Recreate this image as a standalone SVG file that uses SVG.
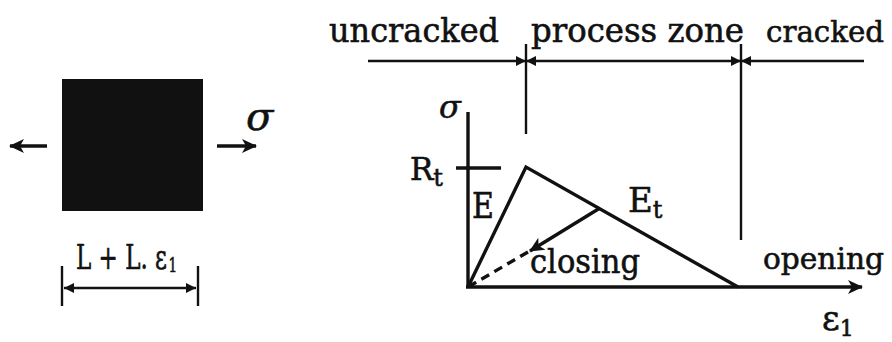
<svg xmlns="http://www.w3.org/2000/svg" width="892" height="342" viewBox="0 0 892 342">
<style>
text{font-family:"DejaVu Serif","Liberation Serif",serif;fill:#111;stroke:#111;stroke-width:0.6}
.ln{stroke:#111;stroke-width:3.4;fill:none}
.thin{stroke:#111;stroke-width:2.4;fill:none}
.it{font-style:italic}
</style>
<defs>
<marker id="ahb" markerWidth="16" markerHeight="16" refX="14" refY="8" orient="auto" markerUnits="userSpaceOnUse">
<path d="M0,1 L15,8 L0,15 L4,8 Z" fill="#111"/>
</marker>
<marker id="ahs" markerWidth="10" markerHeight="10" refX="10" refY="5" orient="auto-start-reverse" markerUnits="userSpaceOnUse">
<path d="M0,0 L10,5 L0,10 Z" fill="#111"/>
</marker>
</defs>

<g id="specimen">
<rect x="62" y="79" width="141" height="132" fill="#111"/>
<line class="ln" x1="47" y1="146" x2="10" y2="146" marker-end="url(#ahb)"/>
<line class="ln" x1="217" y1="146" x2="256" y2="146" marker-end="url(#ahb)"/>
<text class="it" x="246" y="130" font-size="40">σ</text>
</g>

<g id="dimension">
<line class="thin" x1="62" y1="266" x2="62" y2="306"/>
<line class="thin" x1="198" y1="266" x2="198" y2="306"/>
<line class="thin" x1="64" y1="288" x2="196" y2="288" marker-start="url(#ahs)" marker-end="url(#ahs)"/>
<text x="76" y="269" font-size="34" textLength="101" lengthAdjust="spacingAndGlyphs">L + L. ε<tspan font-size="20" dx="2" dy="3">1</tspan></text>
</g>

<g id="zones">
<text x="329" y="42" font-size="34" textLength="170" lengthAdjust="spacingAndGlyphs">uncracked</text>
<text x="531" y="42" font-size="34" textLength="213" lengthAdjust="spacingAndGlyphs">process zone</text>
<text x="766" y="42" font-size="30" textLength="118" lengthAdjust="spacingAndGlyphs">cracked</text>
</g>

<g id="connectors">
<line class="thin" x1="368" y1="61" x2="526" y2="61" marker-end="url(#ahs)"/>
<line class="thin" x1="526" y1="61" x2="741" y2="61" marker-start="url(#ahs)" marker-end="url(#ahs)"/>
<line class="thin" x1="741" y1="61" x2="864" y2="61" marker-start="url(#ahs)"/>
<line class="thin" x1="526" y1="44" x2="526" y2="134"/>
<line class="thin" x1="741" y1="44" x2="741" y2="240"/>
</g>

<g id="graph">
<line class="ln" x1="468" y1="112" x2="468" y2="288"/>
<line class="ln" x1="466" y1="287" x2="862" y2="287" marker-end="url(#ahb)"/>
<line class="ln" x1="456" y1="168" x2="501" y2="168"/>
<polyline class="ln" points="468,287 526,167 738,287"/>
<line class="ln" x1="600" y1="208" x2="530" y2="251" marker-end="url(#ahb)"/>
<line class="ln" x1="528" y1="252" x2="468" y2="287" stroke-dasharray="9,6"/>
<text class="it" x="439" y="118" font-size="32">σ</text>
<text x="410" y="180" font-size="31">R<tspan font-size="24" dy="6">t</tspan></text>
<text x="472" y="218" font-size="36" textLength="22" lengthAdjust="spacingAndGlyphs">E</text>
<text x="628" y="212" font-size="34">E<tspan font-size="24" dy="6">t</tspan></text>
<text x="530" y="273" font-size="34" textLength="110" lengthAdjust="spacingAndGlyphs">closing</text>
<text x="763" y="269" font-size="30" textLength="121" lengthAdjust="spacingAndGlyphs">opening</text>
<text x="822" y="330" font-size="34">ε<tspan font-size="22" dy="6">1</tspan></text>
</g>
</svg>
